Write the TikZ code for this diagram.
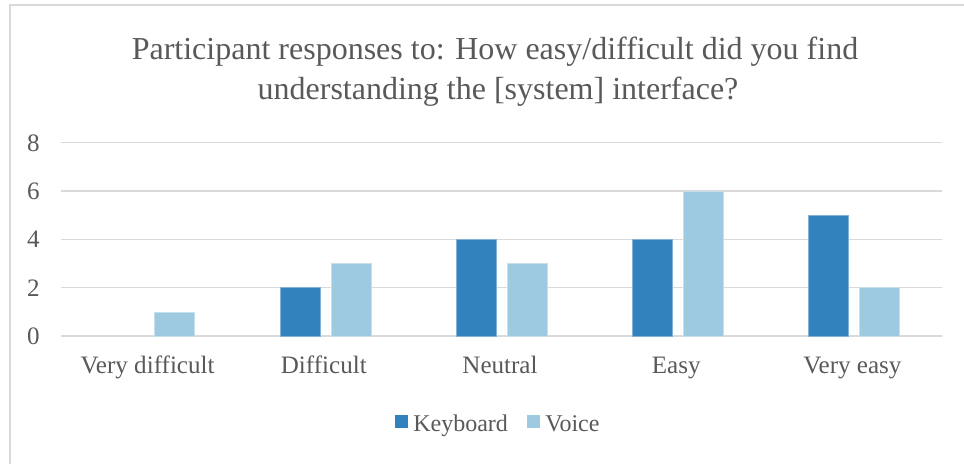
\documentclass[tikz,border=0pt]{standalone}
\usepackage{fontspec}
\setmainfont{Liberation Serif}
\usepackage{tikz}
\usepackage{xcolor}
\definecolor{keyblue}{HTML}{3182BD}
\definecolor{voiceblue}{HTML}{9ECAE1}
\definecolor{gridgray}{HTML}{D9D9D9}
\definecolor{textgray}{HTML}{595959}

\begin{document}
\begin{tikzpicture}[x=0.75pt,y=-0.75pt,
    lbl/.style={text=textgray,font=\fontsize{18}{22}\selectfont,inner sep=0pt},
    catlbl/.style={lbl,font=\fontsize{18.8}{22}\selectfont},
    ttl/.style={text=textgray,font=\fontsize{24}{28}\selectfont,inner sep=0pt},
    gridln/.style={draw=gridgray,line width=1pt},
    keybar/.style={fill=keyblue,draw=keyblue!60!white,line width=0.4pt},
    voicebar/.style={fill=voiceblue,draw=voiceblue!60!white,line width=0.4pt},
    legbox/.style={minimum size=9.5pt,inner sep=0pt}]
    \useasboundingbox (0,0) rectangle (964,464);
    \draw[gridgray,line width=1.2pt] (10,470) -- (10,5) -- (970,5);

    \node[ttl,anchor=base] (title1) at (495,59) {Participant responses to: How easy/difficult did you find};
    \node[ttl,anchor=base] (title2) at (498,99) {understanding the [system] interface?};

    \foreach \v in {0,2,4,6,8} {
        \draw[gridln] (61,{336-24.15*\v}) -- (942,{336-24.15*\v});
        \node[catlbl,anchor=east] (tick\v) at (40,{336-24.15*\v}) {\v};
    }

    \foreach \i/\k/\w/\name in {0/0/1/Very difficult,1/2/3/Difficult,2/4/3/Neutral,3/4/6/Easy,4/5/2/Very easy} {
        \coordinate (cat\i) at ({61+176.2*(\i+0.5)},336);
        \ifnum\k>0
        \draw[keybar] ([xshift=-45.5*0.75pt]cat\i) rectangle ([xshift=-5.5*0.75pt,yshift=24.15*0.75*\k pt]cat\i);
        \fi
        \draw[voicebar] ([xshift=5.5*0.75pt]cat\i) rectangle ([xshift=45.5*0.75pt,yshift=24.15*0.75*\w pt]cat\i);
        \node[catlbl,anchor=base] (name\i) at ({61+176.2*(\i+0.5)-1.5},373) {\name};
    }

    \node[legbox,fill=keyblue] (keykey) at (401.5,421.5) {};
    \node[lbl,anchor=base west] (keytext) at (413,431) {Keyboard};
    \node[legbox,fill=voiceblue] (voicekey) at (533.5,421.5) {};
    \node[lbl,anchor=base west] (voicetext) at (545,431) {Voice};
\end{tikzpicture}
\end{document}
